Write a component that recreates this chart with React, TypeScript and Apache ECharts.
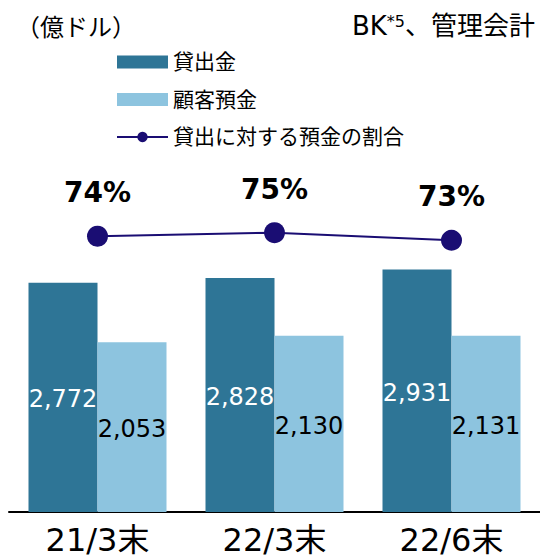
import React, { useEffect, useRef } from "react";
import * as echarts from "echarts";

const categories = ["21/3末", "22/3末", "22/6末"];
const loans = [2772, 2828, 2931];
const deposits = [2053, 2130, 2131];
const ratio = [74.1, 75.3, 72.7];
const seriesNames = ["貸出金", "顧客預金", "貸出に対する預金の割合"];

const FONT = "'DejaVu Sans', 'Noto Sans CJK JP', sans-serif";

export default function App() {
  const ref = useRef<HTMLDivElement>(null);
  useEffect(() => {
    document.body.style.margin = "0";
    const chart = echarts.init(ref.current!, null, { renderer: "svg" });
    chart.setOption({
      animation: false,
      textStyle: { fontFamily: FONT },
      grid: { left: 9, right: 0, top: 148, bottom: 46, containLabel: false },
      legend: {
        orient: "vertical",
        left: 116,
        top: 51,
        padding: 0,
        itemWidth: 51,
        itemHeight: 13,
        itemGap: 15.5,
        textStyle: { fontSize: 21, color: "#000", fontFamily: FONT, lineHeight: 22 },
        data: [
          { name: seriesNames[0], icon: "rect" },
          { name: seriesNames[1], icon: "rect" },
          { name: seriesNames[2] },
        ],
      },
      xAxis: {
        type: "category",
        data: categories,
        axisLine: { show: true, lineStyle: { color: "#000", width: 2 } },
        axisTick: { show: false },
        axisLabel: { fontSize: 32, color: "#000", margin: 12, fontFamily: FONT },
      },
      yAxis: [
        { type: "value", min: 0, max: 4400, show: false, splitLine: { show: false } },
        { type: "value", min: -21, max: 104.5, show: false, splitLine: { show: false } },
      ],
      series: [
        {
          name: seriesNames[0],
          type: "bar",
          data: loans,
          barWidth: 69,
          barGap: "0%",
          itemStyle: { color: "#2e7596" },
          label: {
            show: true,
            position: "inside",
            offset: [0, 2],
            color: "#fff",
            fontSize: 24,
            fontFamily: FONT,
            formatter: (p: any) => p.value.toLocaleString("en-US"),
          },
        },
        {
          name: seriesNames[1],
          type: "bar",
          data: deposits,
          barWidth: 69,
          barGap: "0%",
          itemStyle: { color: "#8dc4df" },
          label: {
            show: true,
            position: "inside",
            offset: [0, 2],
            color: "#000",
            fontSize: 24,
            fontFamily: FONT,
            formatter: (p: any) => p.value.toLocaleString("en-US"),
          },
        },
        {
          name: seriesNames[2],
          type: "line",
          yAxisIndex: 1,
          data: ratio,
          symbol: "circle",
          symbolSize: 21,
          lineStyle: { color: "#1a0d73", width: 2 },
          itemStyle: { color: "#1a0d73" },
          label: {
            show: true,
            position: "top",
            distance: 19,
            color: "#000",
            fontWeight: "bold",
            fontSize: 28,
            fontFamily: FONT,
            formatter: (p: any) => Math.round(p.value) + "%",
          },
        },
      ],
      graphic: [
        {
          type: "text",
          left: 16,
          top: 16,
          style: { text: "（億ドル）", fontSize: 24, fill: "#000", fontFamily: FONT },
        },
        {
          type: "text",
          right: 5,
          top: 13,
          style: {
            text: "{a|BK}{s|*5}{b|、管理会計}",
            fill: "#000",
            fontFamily: FONT,
            rich: {
              a: { fontSize: 26, fill: "#000", fontFamily: FONT },
              s: { fontSize: 16, fill: "#000", fontFamily: FONT, verticalAlign: "top" },
              b: { fontSize: 26, fill: "#000", fontFamily: FONT },
            },
          },
        },
      ],
    });
    return () => chart.dispose();
  }, []);
  return (
    <div
      ref={ref}
      style={{ position: "absolute", left: 0, top: 0, width: 540, height: 558 }}
    />
  );
}
